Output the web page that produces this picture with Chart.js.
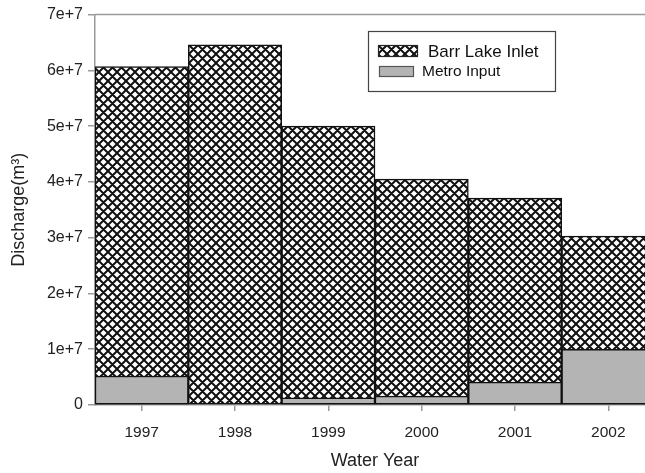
<!DOCTYPE html>
<html>
<head>
<meta charset="utf-8">
<script src="https://cdn.jsdelivr.net/npm/chart.js@4"></script>
<style>
  html, body { margin: 0; padding: 0; background: #fff; overflow: hidden; }
  #wrap { width: 645px; height: 473px; overflow: hidden; }
</style>
</head>
<body>
<div id="wrap"><canvas id="discharge" width="660" height="473"></canvas></div>
<script>
// water years and discharge (m^3)
const years = ['1997', '1998', '1999', '2000', '2001', '2002'];
const barrLakeInlet = [6.07e7, 6.46e7, 5.0e7, 4.05e7, 3.71e7, 3.03e7];
const metroInput = [0.52e7, 0, 0.13e7, 0.16e7, 0.41e7, 1.0e7];
const yTicks = [0, 1e7, 2e7, 3e7, 4e7, 5e7, 6e7, 7e7];

const FONT = 'Arial, "Liberation Sans", sans-serif';
const AXIS_GRAY = '#9a9a9a';
const METRO_GRAY = '#b4b4b4';

function makeHatch() {
  const size = 9;
  const c = document.createElement('canvas');
  c.width = size;
  c.height = size;
  const g = c.getContext('2d');
  g.fillStyle = '#fff';
  g.fillRect(0, 0, size, size);
  g.strokeStyle = '#111';
  g.lineWidth = 2;
  g.beginPath();
  for (let k = -1; k <= 1; k++) {
    g.moveTo(k * size - 1, -1);
    g.lineTo(k * size + size + 1, size + 1);
    g.moveTo(k * size + size + 1, -1);
    g.lineTo(k * size - 1, size + 1);
  }
  g.stroke();
  return g.createPattern(c, 'repeat');
}

const hatch = makeHatch();

// gray line along the top of the plot
const topFrame = {
  id: 'topFrame',
  beforeDatasetsDraw(chart) {
    const { ctx, chartArea } = chart;
    ctx.save();
    ctx.strokeStyle = AXIS_GRAY;
    ctx.lineWidth = 1.5;
    ctx.beginPath();
    ctx.moveTo(chartArea.left, chartArea.top);
    ctx.lineTo(chartArea.right, chartArea.top);
    ctx.stroke();
    ctx.restore();
  }
};

// boxed legend inside the plot, top right
const boxLegend = {
  id: 'boxLegend',
  afterDraw(chart) {
    const ctx = chart.ctx;
    const ds = chart.data.datasets;
    ctx.save();
    ctx.fillStyle = '#fff';
    ctx.fillRect(368, 31, 187, 60);
    ctx.strokeStyle = '#444';
    ctx.lineWidth = 1.2;
    ctx.strokeRect(368.5, 31.5, 187, 60);

    // Barr Lake Inlet
    ctx.fillStyle = ds[0].backgroundColor;
    ctx.fillRect(378, 45, 40, 12);
    ctx.strokeStyle = '#222';
    ctx.lineWidth = 1.2;
    ctx.strokeRect(378.5, 45.5, 39, 11);
    ctx.fillStyle = '#111';
    ctx.font = '17px ' + FONT;
    ctx.textBaseline = 'middle';
    ctx.fillText(ds[0].label, 428, 52);

    // Metro Input
    ctx.fillStyle = ds[1].backgroundColor;
    ctx.fillRect(379, 66, 35, 11);
    ctx.strokeStyle = '#555';
    ctx.strokeRect(379.5, 66.5, 34, 10);
    ctx.fillStyle = '#111';
    ctx.font = '15.5px ' + FONT;
    ctx.fillText(ds[1].label, 422, 72);
    ctx.restore();
  }
};

new Chart(document.getElementById('discharge'), {
  type: 'bar',
  data: {
    labels: years,
    datasets: [
      {
        label: 'Barr Lake Inlet',
        data: barrLakeInlet,
        backgroundColor: hatch,
        borderColor: '#111',
        borderWidth: 1.5,
        borderSkipped: false,
        order: 1
      },
      {
        label: 'Metro Input',
        data: metroInput,
        backgroundColor: METRO_GRAY,
        borderColor: '#111',
        borderWidth: 1.5,
        borderSkipped: false,
        order: 0
      }
    ]
  },
  options: {
    responsive: false,
    animation: false,
    devicePixelRatio: 1,
    grouped: false,
    barPercentage: 1,
    categoryPercentage: 1,
    layout: { padding: { top: 14, right: 5, left: 0, bottom: 0 } },
    plugins: {
      legend: { display: false },
      tooltip: { enabled: false }
    },
    scales: {
      x: {
        offset: true,
        grid: {
          offset: false,
          drawOnChartArea: false,
          color: AXIS_GRAY,
          lineWidth: 1.5,
          tickLength: 6
        },
        border: { color: AXIS_GRAY, width: 1.5 },
        ticks: {
          color: '#222',
          padding: 12,
          font: { family: FONT, size: 15.5 }
        },
        title: {
          display: true,
          text: 'Water Year',
          color: '#222',
          font: { family: FONT, size: 18 },
          padding: { top: 0, bottom: 1 }
        },
        afterFit(scale) { scale.height = 68; }
      },
      y: {
        min: 0,
        max: 7e7,
        afterBuildTicks(scale) {
          scale.ticks = yTicks.map(v => ({ value: v }));
        },
        grid: {
          drawOnChartArea: false,
          color: AXIS_GRAY,
          lineWidth: 1.5,
          tickLength: 7
        },
        border: { color: AXIS_GRAY, width: 1.5 },
        ticks: {
          color: '#222',
          padding: 5,
          font: { family: FONT, size: 16 },
          callback: v => v === 0 ? '0' : (v / 1e7) + 'e+7'
        },
        title: {
          display: true,
          text: 'Discharge(m³)',
          color: '#222',
          font: { family: FONT, size: 18 },
          padding: { top: 8, bottom: 0 }
        },
        afterFit(scale) { scale.width = 95; }
      }
    }
  },
  plugins: [topFrame, boxLegend]
});
</script>
</body>
</html>
